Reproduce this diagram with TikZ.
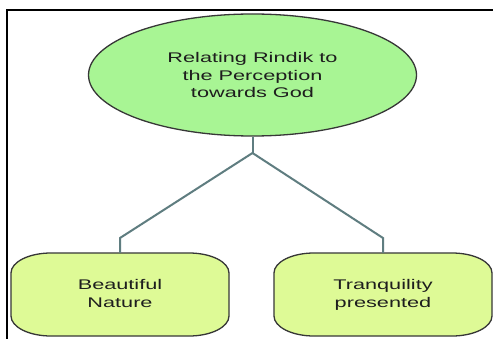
\documentclass[tikz,border=0pt]{standalone}
\usepackage{fontspec}
\setmainfont[FakeStretch=1.55]{Liberation Sans}
\usetikzlibrary{shapes.geometric}
\definecolor{ovalfill}{RGB}{168,245,148}
\definecolor{boxfill}{RGB}{222,250,150}
\definecolor{outline}{RGB}{55,55,55}
\definecolor{connc}{RGB}{95,125,128}
\definecolor{txt}{RGB}{30,30,30}
\tikzset{
  frameline/.style={line width=2.5pt, black, line cap=rect},
  oval/.style={ellipse, fill=ovalfill, draw=outline, line width=1.3pt,
    minimum width=328pt, minimum height=122pt, inner sep=0pt, align=center,
    text=txt, font=\fontsize{14}{17.5}\selectfont},
  boxline/.style={fill=boxfill, draw=outline, line width=1.3pt},
  boxtext/.style={rectangle, draw=none, minimum width=218pt, minimum height=83pt,
    inner sep=0pt, align=center, text=txt, font=\fontsize{14}{18}\selectfont},
  conn/.style={draw=connc, line width=2pt}
}
\newcommand{\softshape}[2]{%
  \path[boxline] (#1-109,#2-21.5) -- (#1-109,#2+21.5)
    arc[start angle=180,end angle=90,x radius=40,y radius=20]
    -- (#1+69,#2+41.5)
    arc[start angle=90,end angle=0,x radius=40,y radius=20]
    -- (#1+109,#2-21.5)
    arc[start angle=0,end angle=-90,x radius=40,y radius=20]
    -- (#1-69,#2-41.5)
    arc[start angle=270,end angle=180,x radius=40,y radius=20]
    -- cycle;}
\begin{document}
\begin{tikzpicture}[x=1pt,y=1pt]
\useasboundingbox (0,0) rectangle (493,338);
\fill[white] (0,0) rectangle (493,338);
\draw[frameline] (7,-2) -- (7,328) -- (495,328);
% connectors
\node[oval] (top) at (252.5,263) {Relating Rindik to\\the Perception\\towards God};
\softshape{120}{43.5}
\softshape{383}{43.5}
\node[boxtext] (bl) at (120,43.5) {\raisebox{-4.5pt}{\begin{tabular}{@{}c@{}}Beautiful\\Nature\end{tabular}}};
\node[boxtext] (br) at (383,43.5) {\raisebox{-4.5pt}{\begin{tabular}{@{}c@{}}Tranquility\\presented\end{tabular}}};
\coordinate (j) at (252.5,185);
\coordinate (el) at (120,100);
\coordinate (er) at (383,100);
\draw[conn] (top.south) -- (j);
\draw[conn] (j) -- (el) -- (bl.north);
\draw[conn] (j) -- (er) -- (br.north);
\end{tikzpicture}
\end{document}
